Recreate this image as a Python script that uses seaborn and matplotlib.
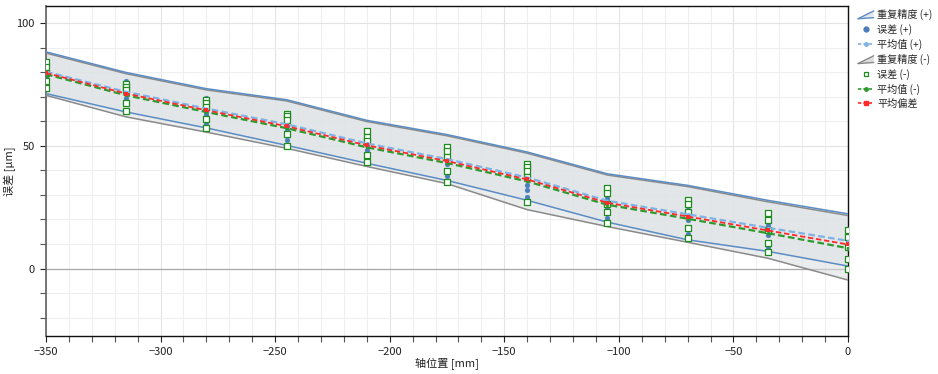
import matplotlib
matplotlib.use("Agg")
import numpy as np
import pandas as pd
import seaborn as sns
import matplotlib.pyplot as plt
from matplotlib.lines import Line2D
from matplotlib.patches import Patch, Polygon
from matplotlib.legend_handler import HandlerBase
from matplotlib.ticker import MultipleLocator

# Axis positions [mm]
positions = [-350, -315, -280, -245, -210, -175, -140, -105, -70, -35, 0]

# Error readings for the + direction (5 runs per position) [um]
err_plus = [
    [83.5, 81.5, 80.0, 78.5, 77.5],
    [76.4, 74.7, 73.3, 71.6, 69.7],
    [69.5, 66.8, 63.8, 62.4, 58.8],
    [63.5, 61.1, 58.1, 56.3, 52.2],
    [56.0, 53.0, 50.5, 48.5, 45.0],
    [48.8, 46.8, 45.2, 42.4, 37.6],
    [40.7, 38.4, 33.9, 32.1, 29.1],
    [31.8, 28.9, 27.5, 24.4, 20.7],
    [25.3, 23.7, 21.6, 19.9, 14.1],
    [21.2, 17.9, 16.6, 13.5, 8.7],
    [16.2, 13.5, 11.0, 8.7, 3.5],
]
# Error readings for the - direction (5 runs per position) [um]
err_minus = [
    [84.0, 82.0, 79.5, 76.5, 73.5],
    [75.4, 74.0, 72.7, 67.6, 64.2],
    [68.8, 67.5, 65.8, 60.8, 57.3],
    [63.1, 62.0, 60.7, 54.7, 49.9],
    [55.9, 53.5, 51.8, 46.1, 43.3],
    [49.5, 48.1, 45.4, 39.6, 35.2],
    [42.4, 41.4, 39.7, 37.3, 27.3],
    [32.8, 30.7, 26.4, 23.0, 18.5],
    [28.0, 26.4, 23.0, 16.6, 12.5],
    [22.7, 19.6, 15.5, 10.5, 6.9],
    [15.9, 12.7, 8.6, 3.7, 0.0],
]

# Mean values per direction [um]
mean_plus = [80.2, 72.0, 65.2, 58.8, 51.0, 44.6, 37.1, 27.6, 22.1, 16.6, 11.3]
mean_minus = [79.2, 70.6, 63.8, 57.2, 49.4, 43.0, 35.5, 26.0, 20.3, 14.4, 8.3]

# Repeatability bands [um]
rep_plus_hi = [88.3, 79.9, 73.3, 68.8, 60.4, 54.6, 47.5, 38.6, 33.9, 27.8, 22.3]
rep_plus_lo = [71.3, 63.8, 57.3, 50.2, 42.9, 35.9, 27.8, 18.9, 11.7, 7.0, 1.0]
rep_minus_hi = [87.8, 79.4, 72.8, 68.3, 59.9, 54.1, 47.0, 38.1, 33.4, 27.2, 21.6]
rep_minus_lo = [70.6, 61.8, 55.6, 49.0, 41.6, 34.6, 24.0, 17.1, 10.7, 4.2, -4.7]

labels = ["重复精度 (+)", "误差 (+)", "平均值 (+)", "重复精度 (-)",
          "误差 (-)", "平均值 (-)", "平均偏差"]

# Colours
c_blue_band = "#5b8cc4"
c_grey_band = "#8a8a8a"
c_dot = "#4a7ebb"
c_sq = "#1e8c1e"
c_mean_p = "#7fb2e5"
c_mean_m = "#2e9a2e"
c_bias = "#ff2b2b"

sns.set_theme(style="white")
plt.rcParams["font.family"] = ["Noto Sans CJK SC", "DejaVu Sans"]

pts = pd.DataFrame(
    [(p, v, "+") for p, row in zip(positions, err_plus) for v in row]
    + [(p, v, "-") for p, row in zip(positions, err_minus) for v in row],
    columns=["pos", "err", "dir"],
)
means = pd.DataFrame({
    "pos": positions,
    "mp": mean_plus,
    "mm": mean_minus,
})
means["bias"] = (means["mp"] + means["mm"]) / 2

fig = plt.figure(figsize=(9.38, 3.74), dpi=100)
ax = fig.add_axes([46 / 938, 38 / 374, 802 / 938, 330 / 374])

# grid
ax.xaxis.set_major_locator(MultipleLocator(50))
ax.xaxis.set_minor_locator(MultipleLocator(10))
ax.yaxis.set_major_locator(MultipleLocator(50))
ax.yaxis.set_minor_locator(MultipleLocator(10))
ax.grid(True, which="major", color="#e3e3e3", lw=0.8)
ax.grid(True, which="minor", color="#efefef", lw=0.8)
ax.set_axisbelow(True)
ax.axhline(0, color="#a8a8a8", lw=0.9, zorder=1)

# repeatability bands
ax.fill_between(positions, rep_plus_lo, rep_plus_hi, color="#e6edf1", alpha=0.75, lw=0, zorder=2)
ax.fill_between(positions, rep_minus_lo, rep_minus_hi, color="#dadedf", alpha=0.55, lw=0, zorder=2)
for arr in (rep_minus_hi, rep_minus_lo):
    ax.plot(positions, arr, color=c_grey_band, lw=1.1, zorder=3)
for arr in (rep_plus_hi, rep_plus_lo):
    ax.plot(positions, arr, color=c_blue_band, lw=1.1, zorder=3)

# individual readings
sns.scatterplot(data=pts[pts["dir"] == "+"], x="pos", y="err", ax=ax, marker="o",
                s=12, color=c_dot, edgecolor=c_dot, linewidth=0.3, zorder=4, legend=False)
sns.scatterplot(data=pts[pts["dir"] == "-"], x="pos", y="err", ax=ax, marker="s",
                s=14, facecolor="white", edgecolor=c_sq, linewidth=0.9, zorder=5, legend=False)

# mean lines
sns.lineplot(data=means, x="pos", y="mp", ax=ax, color=c_mean_p, lw=1.6,
             linestyle=(0, (3, 1.5)), marker="o", markersize=2.5, markeredgewidth=0, zorder=6)
sns.lineplot(data=means, x="pos", y="mm", ax=ax, color=c_mean_m, lw=1.6,
             linestyle=(0, (3, 1.5)), marker="o", markersize=2.5, markeredgewidth=0, zorder=6)
sns.lineplot(data=means, x="pos", y="bias", ax=ax, color=c_bias, lw=1.3,
             linestyle=(0, (3, 1.5)), marker="s", markersize=3, markeredgewidth=0, zorder=7)

ax.set_xlim(-350, 0)
ax.set_ylim(-27.5, 107)
ax.set_xlabel("轴位置 [mm]", fontsize=8, color="#222222", labelpad=1)
ax.set_ylabel("误差 [µm]", fontsize=8, color="#222222")
ax.yaxis.set_label_coords(-0.038, 0.5)
ax.tick_params(axis="both", which="major", direction="out", length=4, width=0.8,
               labelsize=8, colors="#222222", bottom=True, left=True, pad=4)
ax.tick_params(axis="both", which="minor", direction="out", length=4, width=0.8,
               colors="#555555", bottom=True, left=True)
for side in ("top", "right", "bottom"):
    ax.spines[side].set_color("#111111")
    ax.spines[side].set_linewidth(1.0)
ax.spines["left"].set_color("#606060")
ax.spines["left"].set_linewidth(1.2)


class BandHandler(HandlerBase):
    def __init__(self, edge, face):
        super().__init__()
        self.edge = edge
        self.face = face

    def create_artists(self, legend, orig_handle, xdescent, ydescent, width, height,
                       fontsize, trans):
        x0, y0 = -xdescent, -ydescent
        pts_top = [(x0, y0 - 0.1 * height), (x0 + width, y0 + 1.0 * height)]
        pts_bot = [(x0, y0 - 0.1 * height), (x0 + width, y0 + 0.05 * height)]
        poly = Polygon([pts_top[0], pts_top[1], pts_bot[1]], closed=True,
                       facecolor=self.face, edgecolor="none", transform=trans)
        l1 = Line2D([p[0] for p in pts_top], [p[1] for p in pts_top], color=self.edge,
                    lw=1.0, transform=trans)
        l2 = Line2D([p[0] for p in pts_bot], [p[1] for p in pts_bot], color=self.edge,
                    lw=1.0, transform=trans)
        return [poly, l1, l2]


h_band_p = Patch()
h_band_m = Patch()
handles = [
    h_band_p,
    Line2D([], [], ls="none", marker="o", ms=3.5, color=c_dot),
    Line2D([], [], color=c_mean_p, lw=1.2, ls=(0, (2, 1.2)), marker="o", ms=2.5),
    h_band_m,
    Line2D([], [], ls="none", marker="s", ms=3.5, mfc="white", mec=c_sq, mew=0.9),
    Line2D([], [], color=c_mean_m, lw=1.2, ls=(0, (2, 1.2)), marker="o", ms=2.5),
    Line2D([], [], color=c_bias, lw=1.2, ls=(0, (2, 1.2)), marker="s", ms=2.5),
]
fig.legend(handles, labels, loc="upper left", bbox_to_anchor=(858 / 938, 1 - 9 / 374),
           frameon=False, fontsize=7.3, handlelength=1.55, handletextpad=0.35,
           labelspacing=0.38, borderaxespad=0, borderpad=0,
           handler_map={h_band_p: BandHandler(c_blue_band, "#e2e8ee"),
                        h_band_m: BandHandler(c_grey_band, "#dcdcdc")})

fig.savefig("out.png", dpi=100)
